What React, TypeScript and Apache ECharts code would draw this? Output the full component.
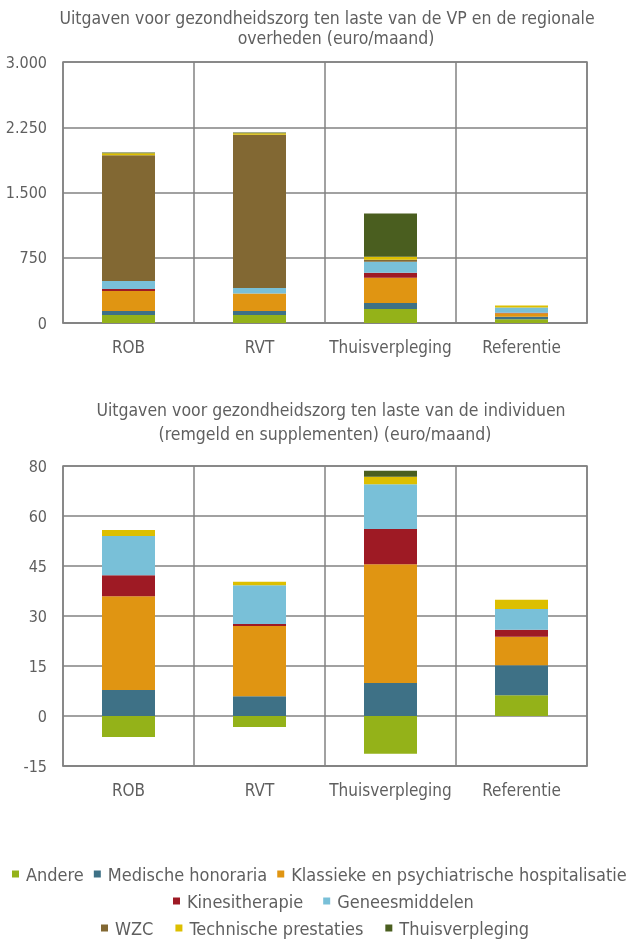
import React, { useEffect, useRef } from "react";
import * as echarts from "echarts";

const categories = ["ROB", "RVT", "Thuisverpleging", "Referentie"];
const seriesNames = [
  "Andere",
  "Medische honoraria",
  "Klassieke en psychiatrische hospitalisatie",
  "Kinesitherapie",
  "Geneesmiddelen",
  "WZC",
  "Technische prestaties",
  "Thuisverpleging",
];
const colors = ["#94B219", "#3E7186", "#E09512", "#9E1A24", "#79C0D8", "#826833", "#DDBF00", "#4A5E1F"];

// Top chart (VP & regional governments), euro/month
const topAndere = [92, 92, 162, 42];
const topMedische = [46, 46, 69, 31];
const topKlassieke = [230, 200, 288, 38];
const topKine = [23, null, 58, 8];
const topGenees = [92, 65, 127, 58];
const topWZC = [1446, 1762, 23, null];
const topTechnische = [23, 15, 35, 23];
const topThuis = [8, 10, 496, null];

// Bottom chart (individuals), euro/month
const botAndere = [-6.3, -3.3, -11.3, 6.2];
const botMedische = [7.8, 5.9, 9.9, 9.0];
const botKlassieke = [28.1, 21.1, 35.6, 8.6];
const botKine = [6.3, 0.6, 10.6, 2.1];
const botGenees = [11.8, 11.6, 13.4, 6.2];
const botWZC = [null, null, null, null];
const botTechnische = [1.8, 1.1, 2.3, 2.8];
const botThuis = [null, null, 1.8, null];

const topTicks = ["0", "750", "1.500", "2.250", "3.000"];
const legendRows = [
  ["Andere", "Medische honoraria", "Klassieke en psychiatrische hospitalisatie"],
  ["Kinesitherapie", "Geneesmiddelen"],
  ["WZC", "Technische prestaties", "Thuisverpleging"],
];
const titleLines = [
  "Uitgaven voor gezondheidszorg ten laste van de VP en de regionale",
  "overheden (euro/maand)",
  "Uitgaven voor gezondheidszorg ten laste van de individuen",
  "(remgeld en supplementen) (euro/maand)",
];

const FONT = "'Liberation Sans Narrow', 'DejaVu Sans Condensed', 'Roboto', sans-serif";
const TXT = "#5f5f5f";
const GRID = "#828282";

export default function App() {
  const ref = useRef<HTMLDivElement>(null);
  useEffect(() => {
    if (!ref.current) return;
    const chart = echarts.init(ref.current, undefined, { renderer: "svg" });
    const topData = [topAndere, topMedische, topKlassieke, topKine, topGenees, topWZC, topTechnische, topThuis];
    const botData = [botAndere, botMedische, botKlassieke, botKine, botGenees, botWZC, botTechnische, botThuis];

    const series: any[] = [];
    seriesNames.forEach((name, i) => {
      series.push({
        name, type: "bar", stack: "top", xAxisIndex: 0, yAxisIndex: 0,
        data: topData[i], barWidth: 53, itemStyle: { color: colors[i] },
      });
      series.push({
        name, type: "bar", stack: "bot", xAxisIndex: 1, yAxisIndex: 1,
        data: botData[i], barWidth: 53, itemStyle: { color: colors[i] },
      });
    });

    const catAxis = (gridIndex: number) => ({
      type: "category", gridIndex, data: categories,
      axisTick: { show: false },
      axisLine: { onZero: false, lineStyle: { color: GRID, width: 1.5 } },
      axisLabel: { interval: 0, color: TXT, fontFamily: FONT, fontSize: 17, margin: 15 },
      splitLine: { show: true, interval: 0, lineStyle: { color: GRID, width: 1.5 } },
    });
    const legendStyle = { color: TXT, fontFamily: FONT, fontSize: 18, padding: [0, 0, 0, 2] };
    const titleStyle = { color: TXT, fontFamily: FONT, fontSize: 17.5, fontWeight: "normal" };
    const titlePos = [
      [327, 9],
      [336, 29],
      [331, 401],
      [325, 425],
    ];

    chart.setOption({
      animation: false,
      title: titleLines.map((t, i) => ({
        text: t, left: titlePos[i][0], top: titlePos[i][1], textAlign: "center", padding: 0,
        textStyle: titleStyle,
      })),
      legend: legendRows.map((row, r) => ({
        data: row,
        left: [12, 173, 101][r],
        top: [865, 892, 919][r],
        width: [623, 450, 520][r],
        padding: 0,
        itemWidth: 7, itemHeight: 7, itemGap: [10, 20, 22][r],
        icon: "rect",
        textStyle: legendStyle,
        selectedMode: false,
      })),
      grid: [
        { left: 63, right: 48, top: 62, height: 261, show: true, borderColor: GRID, borderWidth: 1.5, outerBoundsMode: "none", containLabel: false },
        { left: 63, right: 48, top: 466, height: 300, show: true, borderColor: GRID, borderWidth: 1.5, outerBoundsMode: "none", containLabel: false },
      ],
      xAxis: [catAxis(0), catAxis(1)],
      yAxis: [
        {
          type: "value", gridIndex: 0, min: 0, max: 3000, interval: 750,
          axisLine: { show: false }, axisTick: { show: false },
          axisLabel: {
            color: TXT, fontFamily: FONT, fontSize: 16, margin: 16,
            formatter: (v: number) => topTicks[Math.round(v / 750)],
          },
          splitLine: { lineStyle: { color: GRID, width: 1.5 } },
        },
        {
          type: "value", gridIndex: 1, min: -15, max: 75, interval: 15,
          axisLine: { show: false }, axisTick: { show: false },
          axisLabel: {
            color: TXT, fontFamily: FONT, fontSize: 16, margin: 16,
            formatter: (v: number) => (v === 75 ? "80" : String(v)),
          },
          splitLine: { lineStyle: { color: GRID, width: 1.5 } },
        },
      ],
      series,
    });
    return () => chart.dispose();
  }, []);
  return <div ref={ref} style={{ position: "fixed", left: 0, top: 0, width: 635, height: 943 }} />;
}
